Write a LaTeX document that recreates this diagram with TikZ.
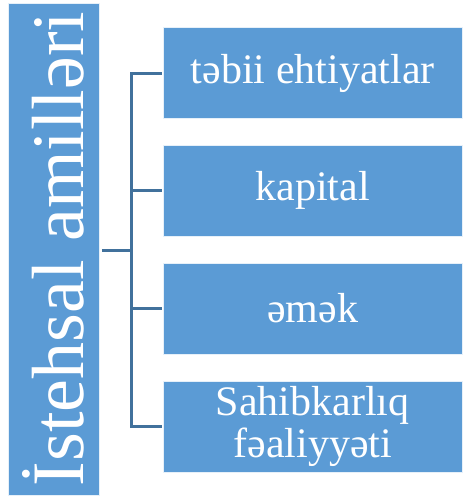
\documentclass[tikz,border=0pt]{standalone}
\usepackage{fontspec}
\newfontfamily\diagserif{Liberation Serif}
\definecolor{boxblue}{HTML}{5B9BD5}
\definecolor{connblue}{HTML}{41719C}
\tikzset{
  bigbox/.style={draw=white!85!boxblue, line width=0.8pt, fill=boxblue, text=white, inner sep=0pt, align=center},
  smallbox/.style={bigbox, minimum width=298.5pt, minimum height=91pt, font=\diagserif\fontsize{42}{42}\selectfont},
  conn/.style={draw=connblue, line width=3pt, line join=miter}
}
\begin{document}
\begin{tikzpicture}[x=1pt,y=-1pt]
\useasboundingbox (0,0) rectangle (463,498);
\node[bigbox, rotate=90, minimum width=492pt, minimum height=91pt, font=\diagserif\fontsize{74}{80}\selectfont] (L) at (53.5,249) {İstehsal amilləri};
\node[smallbox] (B1) at (312.75,73) {təbii ehtiyatlar};
\node[smallbox] (B2) at (312.75,190.5) {kapital};
\node[smallbox] (B3) at (312.75,308.5) {əmək};
\node[smallbox] (B4) at (312.75,426.5) {Sahibkarlıq\\fəaliyyəti};
\coordinate (hub) at (131.7,250);
\draw[conn] ([xshift=2.5pt]L.south |- hub) -- (hub);
\draw[conn] ([xshift=-1.5pt]B1.west) -- (hub |- B1.west) -- (hub |- B4.west) -- ([xshift=-1.5pt]B4.west);
\draw[conn] (hub |- B2.west) -- ([xshift=-1.5pt]B2.west);
\draw[conn] (hub |- B3.west) -- ([xshift=-1.5pt]B3.west);
\end{tikzpicture}
\end{document}
